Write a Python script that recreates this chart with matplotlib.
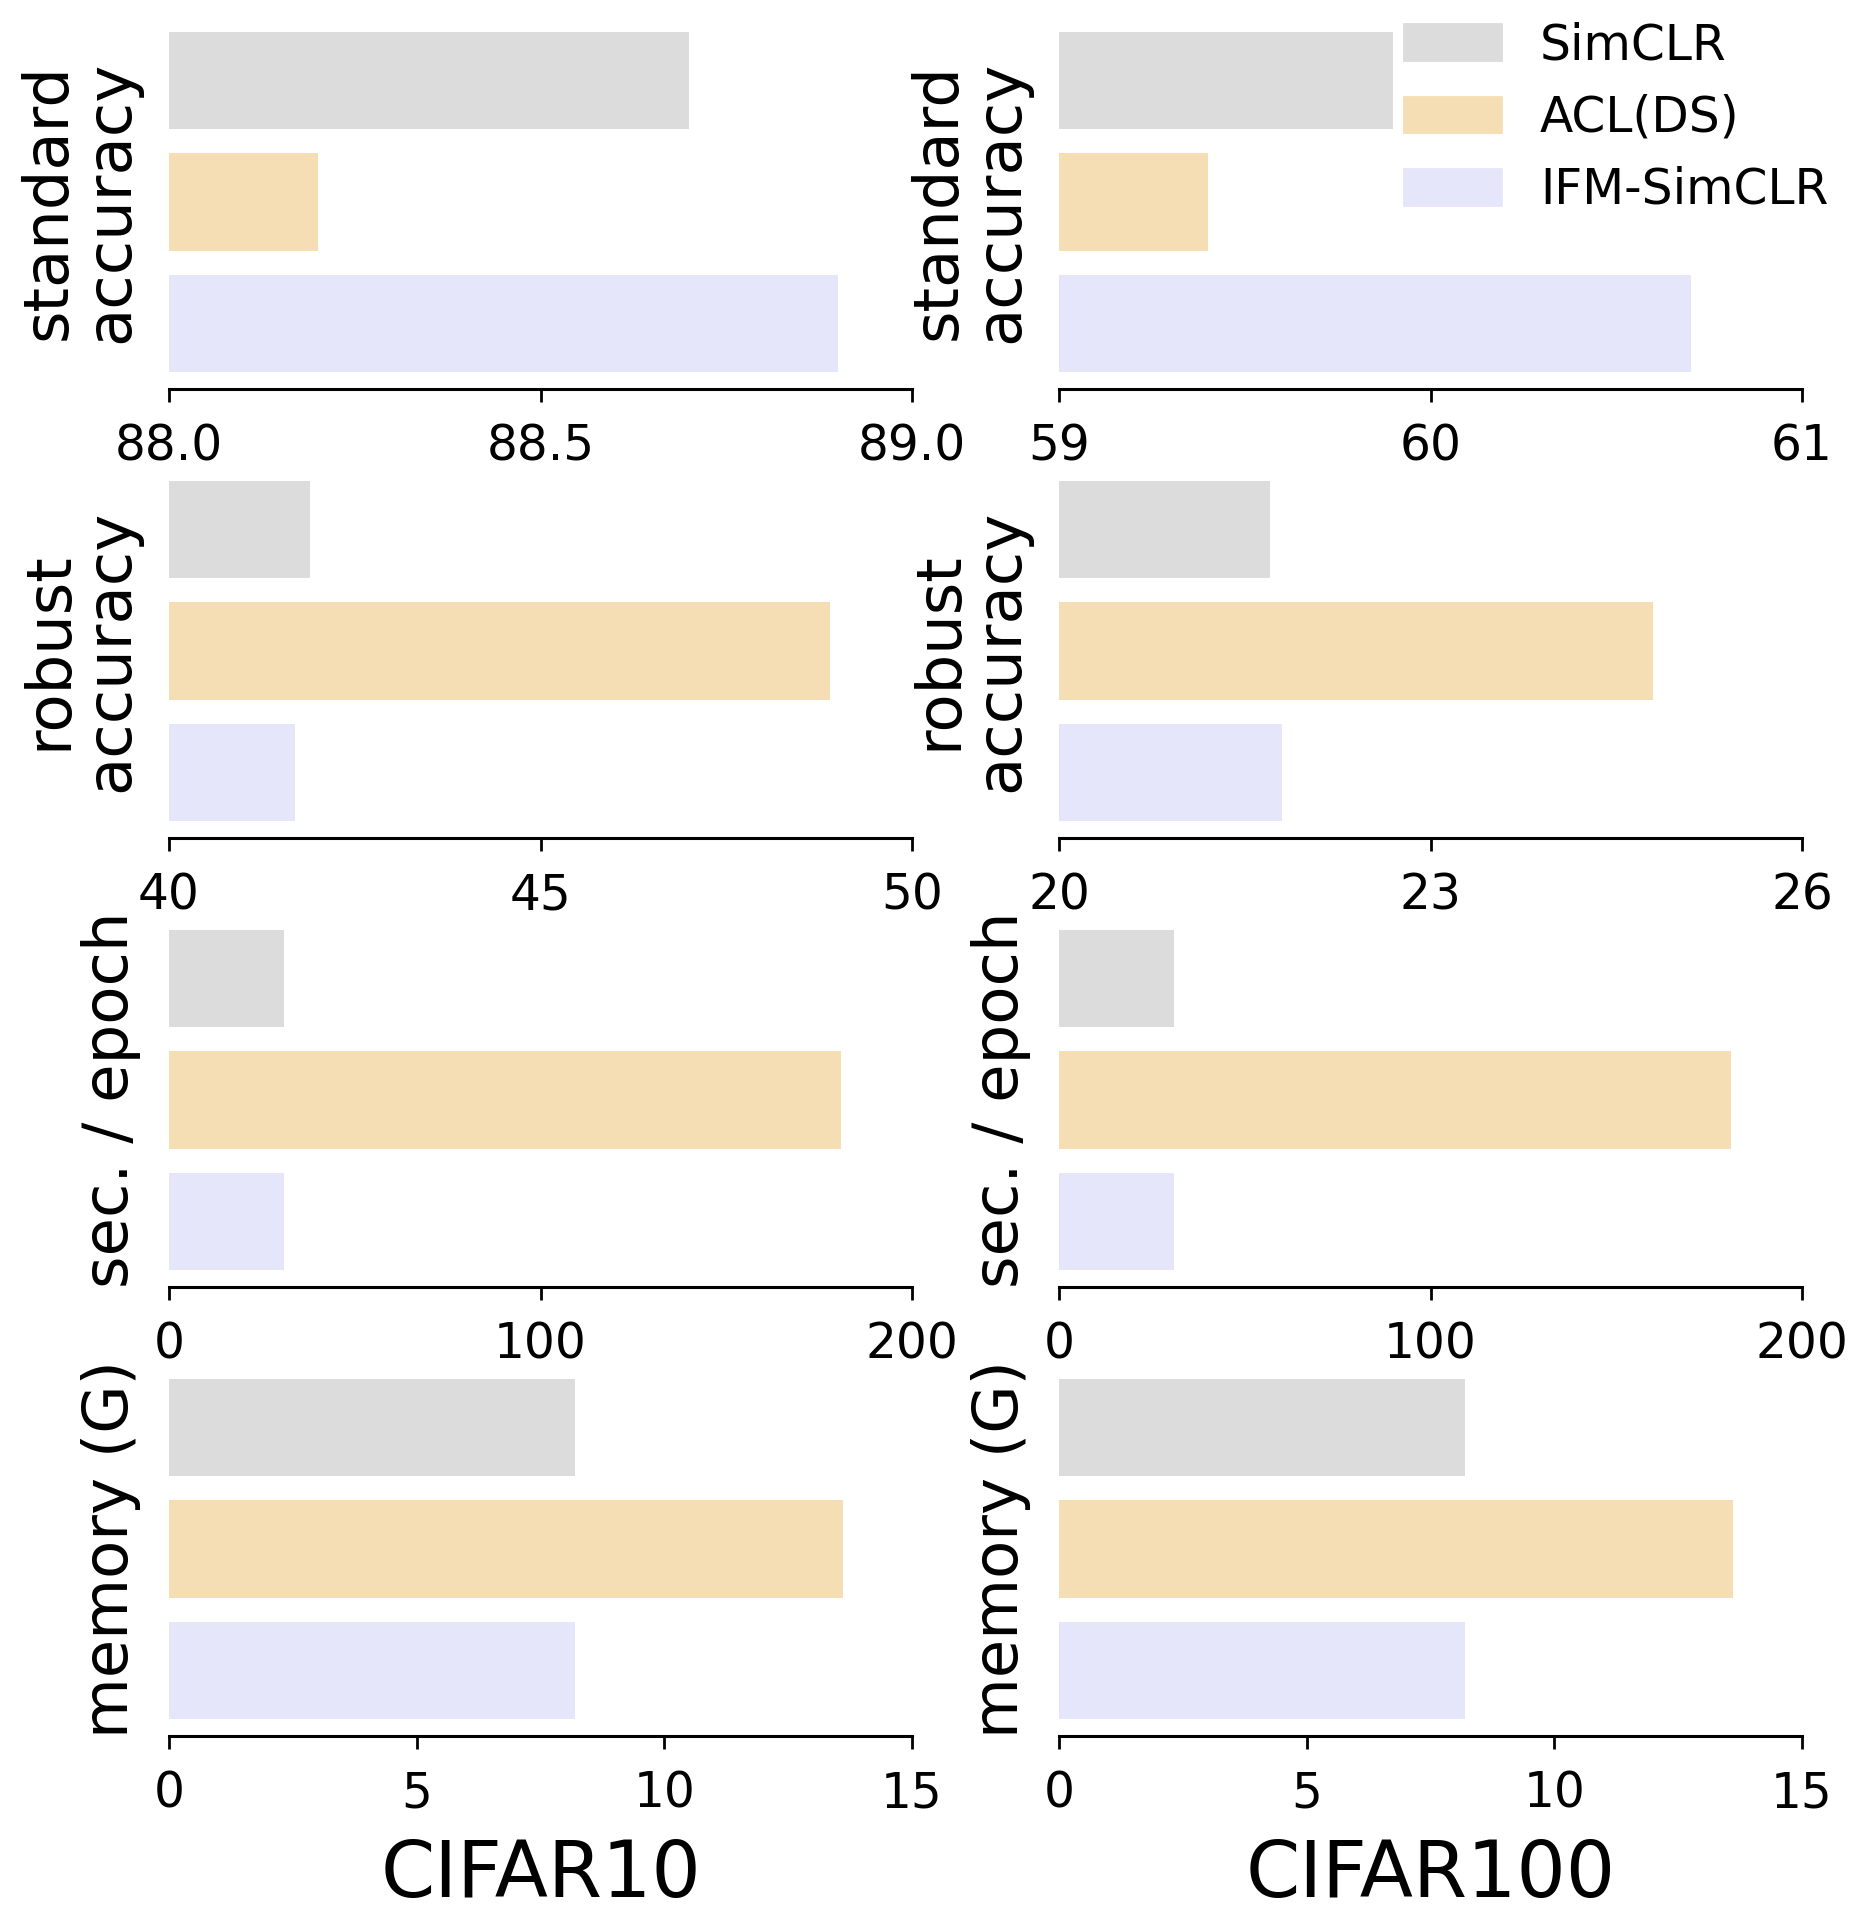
import matplotlib
matplotlib.use("Agg")
import matplotlib.pyplot as plt
import numpy as np

plt.rcParams['font.family'] = ['DejaVu Sans']

methods = ["SimCLR", "ACL(DS)", "IFM-SimCLR"]
colors = ["gainsboro", "wheat", "lavender"]
datasets = ["CIFAR10", "CIFAR100"]
metric_labels = ["standard\naccuracy", "robust\naccuracy", "sec. / epoch", "memory (G)"]

# values per metric, per dataset, order: SimCLR, ACL(DS), IFM-SimCLR
std_acc_c10 = [88.70, 88.20, 88.90]
std_acc_c100 = [59.90, 59.40, 60.70]
rob_acc_c10 = [41.9, 48.9, 41.7]
rob_acc_c100 = [21.7, 24.8, 21.8]
sec_c10 = [31, 181, 31]
sec_c100 = [31, 181, 31]
mem_c10 = [8.2, 13.6, 8.2]
mem_c100 = [8.2, 13.6, 8.2]

xlims_c10 = [(88.0, 89.0), (40, 50), (0, 200), (0, 15)]
xlims_c100 = [(59, 61), (20, 26), (0, 200), (0, 15)]
xticks_c10 = [[88.0, 88.5, 89.0], [40, 45, 50], [0, 100, 200], [0, 5, 10, 15]]
xticks_c100 = [[59, 60, 61], [20, 23, 26], [0, 100, 200], [0, 5, 10, 15]]
xticklabels_c10 = [["88.0", "88.5", "89.0"], ["40", "45", "50"], ["0", "100", "200"], ["0", "5", "10", "15"]]
xticklabels_c100 = [["59", "60", "61"], ["20", "23", "26"], ["0", "100", "200"], ["0", "5", "10", "15"]]

data = [
    [std_acc_c10, std_acc_c100],
    [rob_acc_c10, rob_acc_c100],
    [sec_c10, sec_c100],
    [mem_c10, mem_c100],
]
xlims = [xlims_c10, xlims_c100]
xticks = [xticks_c10, xticks_c100]
xticklabels = [xticklabels_c10, xticklabels_c100]

fig, axes = plt.subplots(4, 2, figsize=(9.33, 9.6), dpi=200)
fig.subplots_adjust(left=0.0906, right=0.9657, top=0.9922, bottom=0.0958,
                    hspace=0.2, wspace=0.198)

ypos = np.arange(len(methods))
for r in range(4):
    for c in range(2):
        ax = axes[r, c]
        vals = data[r][c]
        lo = xlims[c][r][0]
        ax.barh(ypos, np.array(vals) - lo, left=lo, height=0.8, color=colors,
                label=methods)
        ax.set_xlim(*xlims[c][r])
        ax.set_xticks(xticks[c][r])
        ax.set_xticklabels(xticklabels[c][r])
        ax.invert_yaxis()
        ax.set_yticks([])
        for s in ["left", "right", "top"]:
            ax.spines[s].set_visible(False)
        ax.spines["bottom"].set_linewidth(1.1)
        ax.tick_params(axis="x", labelsize=17.5, length=4.5, width=1.0, pad=7.5)
        ax.set_ylabel(metric_labels[r], fontsize=22.5, labelpad=10, linespacing=1.05)
        if r == 3:
            ax.set_xlabel(datasets[c], fontsize=28, labelpad=7)

handles = [plt.Rectangle((0, 0), 1, 1, color=col) for col in colors]
axes[0, 1].legend(handles, methods, loc="upper left", bbox_to_anchor=(0.7524, 0.989),
                  bbox_transform=fig.transFigure, frameon=False, fontsize=17.5,
                  borderpad=0, borderaxespad=0, labelspacing=0.5, handleheight=0.75,
                  handlelength=2.0, handletextpad=0.8)

fig.savefig("out.png", dpi=200)
